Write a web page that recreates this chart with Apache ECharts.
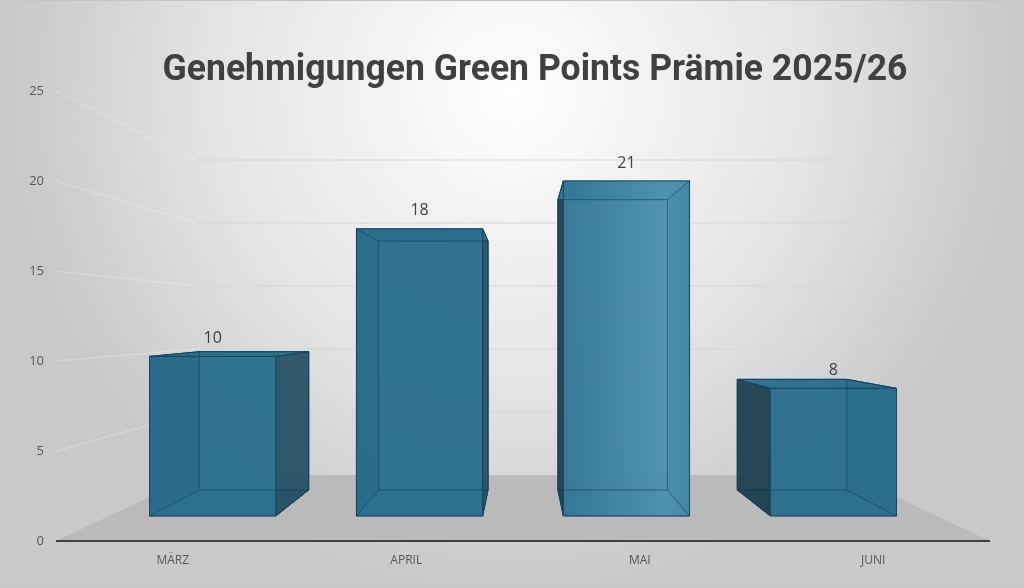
<!DOCTYPE html>
<html>
<head>
<meta charset="utf-8">
<script src="https://cdn.jsdelivr.net/npm/echarts@6/dist/echarts.min.js"></script>
<style>
  html, body { margin: 0; padding: 0; }
  #chart { width: 1022px; height: 586px; border: 1px solid #c4c4c4; }
</style>
</head>
<body>
<div id="chart"></div>
<script>
// Daten
var monate = ['MÄRZ', 'APRIL', 'MAI', 'JUNI'];
var genehmigungen = [10, 18, 21, 8];
var yTicks = [0, 5, 10, 15, 20, 25];
var titel = 'Genehmigungen Green Points Prämie 2025/26';

// Perspektive: Tiefe als Skalierung zum Fluchtpunkt
var S_FRONT = 0.886;   // Vorderseite der Säulen
var S_BACK = 0.768;    // Rückseite der Säulen
var S_WALL = 0.70;     // Rückwand
var VP_OFFSET = 220;   // Fluchtpunkt über der Nulllinie

function vanish(params, api) {
    var cs = params.coordSys;
    var zero = api.coord([0, 0]);
    return [cs.x + cs.width / 2, zero[1] - VP_OFFSET];
}
function proj(vp, p, s) {
    return [vp[0] + (p[0] - vp[0]) * s, vp[1] + (p[1] - vp[1]) * s];
}

// Titel schmal setzen (schmale Schrift wie im Original)
var titleFont = 'bold 37px Roboto';
var ctx = document.createElement('canvas').getContext('2d');
ctx.font = titleFont;
var titleScale = 745 / ctx.measureText(titel).width;

// Licht: heller Streifen rechts der Mitte
var dark = 'rgba(42,110,142,0.93)';
var light = {
    type: 'linear', x: 0, y: 0, x2: 1024, y2: 0, global: true,
    colorStops: [
        {offset: 0, color: dark},
        {offset: 0.52, color: dark},
        {offset: 0.65, color: 'rgba(78,146,178,0.93)'},
        {offset: 0.74, color: dark},
        {offset: 1, color: dark}
    ]
};

var myChart = echarts.init(document.getElementById('chart'));

var option = {
    backgroundColor: {
        type: 'radial', x: 0.5, y: 0.15, r: 0.85,
        colorStops: [
            {offset: 0, color: '#ffffff'},
            {offset: 0.6, color: '#e4e4e4'},
            {offset: 1, color: '#c9c9c9'}
        ]
    },
    graphic: [{
        type: 'text',
        x: 534,
        y: 70,
        scaleX: titleScale,
        silent: true,
        style: {
            text: titel,
            font: titleFont,
            fill: '#404040',
            align: 'center',
            verticalAlign: 'middle'
        }
    }],
    grid: {left: 55, right: 33, top: 90, bottom: 46},
    xAxis: {
        type: 'category',
        data: monate,
        axisLine: {show: false},
        axisTick: {show: false},
        axisLabel: {color: '#595959', fontSize: 12, margin: 14, fontFamily: 'Open Sans'}
    },
    yAxis: {
        type: 'value',
        min: 0, max: 25, interval: 5,
        axisLine: {show: false},
        axisTick: {show: false},
        splitLine: {show: false},
        axisLabel: {color: '#595959', fontSize: 13, margin: 12, fontFamily: 'Open Sans'}
    },
    series: [
        {
            // Boden, Wände, Gitterlinien
            type: 'custom',
            silent: true,
            z: 1,
            data: [0],
            renderItem: function (params, api) {
                var cs = params.coordSys;
                var vp = vanish(params, api);
                var left = cs.x, right = cs.x + cs.width;
                var y0 = api.coord([0, 0])[1];
                var children = [];
                // Boden
                children.push({
                    type: 'polygon',
                    shape: {points: [[left, y0], [right, y0], proj(vp, [right, y0], S_WALL), proj(vp, [left, y0], S_WALL)]},
                    style: {fill: '#bababa'}
                });
                for (var i = 1; i < yTicks.length; i++) {
                    var y = api.coord([0, yTicks[i]])[1];
                    var a = proj(vp, [left, y], S_WALL), b = proj(vp, [right, y], S_WALL);
                    children.push({
                        type: 'line',
                        shape: {x1: a[0], y1: a[1], x2: b[0], y2: b[1]},
                        style: {stroke: '#d6d6d6', lineWidth: 1}
                    });
                    children.push({
                        type: 'line',
                        shape: {x1: left, y1: y, x2: a[0], y2: a[1]},
                        style: {stroke: 'rgba(255,255,255,0.3)', lineWidth: 1}
                    });
                }
                // Achsenlinie
                children.push({
                    type: 'line',
                    shape: {x1: left, y1: y0, x2: right, y2: y0},
                    style: {stroke: '#404040', lineWidth: 2}
                });
                return {type: 'group', children: children};
            }
        },
        {
            // Säulen
            type: 'custom',
            z: 2,
            data: genehmigungen.map(function (v, i) { return [i, v]; }),
            renderItem: function (params, api) {
                var vp = vanish(params, api);
                var i = api.value(0), v = api.value(1);
                var top = api.coord([i, v]);
                var bot = api.coord([i, 0]);
                var w = api.size([1, 0])[0] * 0.61;
                var x0 = top[0] - w / 2, x1 = top[0] + w / 2;
                var fl = [[x0, bot[1]], [x1, bot[1]], [x1, top[1]], [x0, top[1]]];
                var F = fl.map(function (p) { return proj(vp, p, S_FRONT); });
                var B = fl.map(function (p) { return proj(vp, p, S_BACK); });
                var edge = 'rgba(18,66,90,0.85)';
                function face(pts, fill) {
                    return {type: 'polygon', shape: {points: pts}, style: {fill: fill, stroke: edge, lineWidth: 1}};
                }
                var children = [
                    face(B, 'rgba(45,112,145,0.5)'),
                    face([F[0], F[1], B[1], B[0]], 'rgba(35,95,125,0.6)'),
                    face([F[0], F[3], B[3], B[0]], 'rgba(28,58,74,0.88)'),
                    face([F[1], F[2], B[2], B[1]], 'rgba(34,74,94,0.85)'),
                    face([F[3], F[2], B[2], B[3]], light),
                    face(F, light)
                ];
                // Kanten der Rückseite sichtbar durch die Front
                children.push({
                    type: 'polyline',
                    shape: {points: [B[0], B[1], B[2], B[3], B[0]]},
                    style: {stroke: 'rgba(18,70,95,0.6)', fill: null, lineWidth: 1}
                });
                [0, 1, 2, 3].forEach(function (k) {
                    children.push({
                        type: 'line',
                        shape: {x1: F[k][0], y1: F[k][1], x2: B[k][0], y2: B[k][1]},
                        style: {stroke: 'rgba(18,70,95,0.6)', lineWidth: 1}
                    });
                });
                children.push({
                    type: 'text',
                    x: (F[2][0] + F[3][0]) / 2,
                    y: F[3][1] - 18,
                    style: {
                        text: String(v),
                        fill: '#404040',
                        fontSize: 16,
                        fontFamily: 'Open Sans',
                        align: 'center',
                        verticalAlign: 'middle'
                    }
                });
                return {type: 'group', children: children};
            }
        }
    ]
};
myChart.setOption(option);
</script>
</body>
</html>
